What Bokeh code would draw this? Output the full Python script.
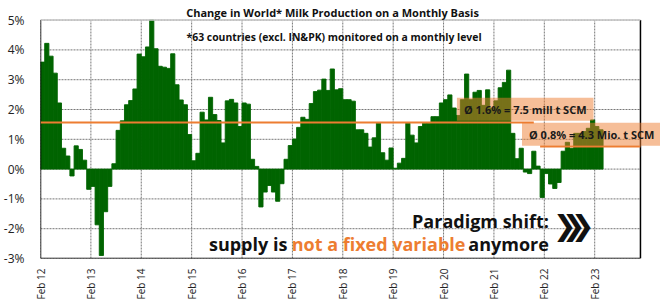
import numpy as np
import pandas as pd
from bokeh.plotting import figure
from bokeh.models import Range1d, FixedTicker, Label, ColumnDataSource
from bokeh.embed import file_html
from bokeh.resources import INLINE

# ---------------- data ----------------
months = pd.period_range("2012-02", "2023-03", freq="M").strftime("%b %y").tolist()
growth = [
    3.59, 4.22, 3.79, 3.22, 2.22, 0.70, 0.44, -0.23, 0.78, 0.66, 0.30, -0.68,
    -0.58, -1.87, -2.90, -1.43, -0.58, 0.18, 1.30, 1.62, 2.16, 2.30, 2.69, 3.86,
    3.77, 4.10, 5.00, 4.04, 3.45, 3.42, 3.38, 3.87, 2.83, 2.32, 2.16, 1.16,
    0.28, 0.53, 1.91, 1.65, 2.41, 1.83, 1.63, 0.88, 2.29, 2.34, 2.22, 1.43,
    2.22, 2.18, 0.33, 0.09, -1.27, -0.77, -0.55, -0.77, -1.08, -0.49, 0.33, 0.79,
    1.01, 1.40, 1.74, 1.67, 2.20, 2.60, 2.65, 3.02, 2.64, 3.36, 2.66, 2.70,
    2.33, 2.33, 2.28, 1.32, 1.32, 1.20, 0.74, 1.05, 1.54, 0.55, 0.30, 0.71,
    0.03, 0.20, 0.36, 1.54, 1.14, 0.88, 1.43, 1.54, 1.54, 1.76, 1.76, 2.22,
    2.33, 2.49, 2.05, 1.80, 2.33, 3.19, 2.33, 2.58, 2.64, 2.14, 2.66, 2.05,
    2.29, 2.73, 2.91, 3.32, 1.20, 0.35, 0.70, -0.10, -0.15, 0.60, 0.10, -0.95,
    -0.15, -0.50, -0.65, -0.45, 0.60, 0.90, 0.70, 1.20, 1.20, 1.26, 1.37, 1.65,
    1.43, 1.32,
]
tick_labels = ["Feb 12", "Feb 13", "Feb 14", "Feb 15", "Feb 16", "Feb 17",
               "Feb 18", "Feb 19", "Feb 20", "Feb 21", "Feb 22", "Feb 23"]
y_ticks = [-3, -2, -1, 0, 1, 2, 3, 4, 5]
avg_labels = ["Ø 1.6% = 7.5 mill t SCM", "Ø 0.8% = 4.3 Mio. t SCM"]
avg_values = [1.56, 0.76]
avg_start = ["Feb 12", "Jan 22"]
avg_end = ["Nov 21", None]

title = "Change in World* Milk Production on a Monthly Basis"
subtitle = "*63 countries (excl. IN&PK) monitored on a monthly level"

# ---------------- layout helpers ----------------
idx = {m: i for i, m in enumerate(months)}
n = len(months)
GREEN = "#006400"
ORANGE = "#ED7D31"
FONT = "Open Sans"
PX_PER_MONTH = 4.212
PX_PER_PCT = 30.4
XMAX = 142.9                      # right border of plot area (in months)
XEND = 622 / PX_PER_MONTH         # canvas right edge
YMIN, YMAX = y_ticks[0], y_ticks[-1]
YEND = YMAX + 20 / PX_PER_PCT     # canvas top edge


def px2x(px):
    return (px - 38) / PX_PER_MONTH


def py2y(py):
    return YMAX - (py - 20) / PX_PER_PCT


p = figure(width=660, height=302, output_backend="svg", toolbar_location=None,
           x_range=Range1d(0, XEND), y_range=Range1d(YMIN, YEND),
           min_border_left=38, min_border_right=0, min_border_top=0,
           min_border_bottom=39)
p.background_fill_color = "white"
p.border_fill_color = "white"
p.outline_line_color = None
p.xgrid.visible = False
p.ygrid.visible = False

# gridlines (inside plot area only)
ticks_x = [months.index(t) for t in tick_labels]
p.segment(x0=ticks_x, y0=[YMIN] * len(ticks_x), x1=ticks_x, y1=[YMAX] * len(ticks_x),
          line_color="#777777", line_dash="2 1", line_width=1)
p.segment(x0=[0] * len(y_ticks), y0=y_ticks, x1=[XMAX] * len(y_ticks), y1=y_ticks,
          line_color="#777777", line_dash="2 1", line_width=1)

# bars
src = ColumnDataSource(dict(x=[i + 0.5 for i in range(n)], top=growth, month=months))
p.vbar(x="x", top="top", bottom=0, width=1.0, source=src,
       fill_color=GREEN, line_color=GREEN, line_width=0.9)

# frame lines
p.segment(x0=[0, 0, XMAX], y0=[YMIN, YMIN, YMIN], x1=[0, XMAX, XMAX], y1=[YMAX, YMIN, YMAX],
          line_color="black", line_width=1.5)
p.segment(x0=[0], y0=[YMAX], x1=[XMAX], y1=[YMAX], line_color="#c8c8c8", line_width=1.5)

# axes
p.xaxis.ticker = FixedTicker(ticks=ticks_x)
p.xaxis.major_label_overrides = {t: lab for t, lab in zip(ticks_x, tick_labels)}
p.xaxis.major_label_orientation = np.pi / 2
p.xaxis.major_label_text_font = FONT
p.xaxis.major_label_text_font_size = "10px"
p.xaxis.major_label_text_color = "#222222"
p.xaxis.major_label_standoff = 4
p.xaxis.major_tick_line_color = None
p.xaxis.minor_tick_line_color = None
p.xaxis.axis_line_color = None

p.yaxis.ticker = FixedTicker(ticks=y_ticks)
p.yaxis.major_label_overrides = {t: f"{t}%" for t in y_ticks}
p.yaxis.major_label_text_font = FONT
p.yaxis.major_label_text_font_size = "12px"
p.yaxis.major_label_text_color = "#222222"
p.yaxis.major_label_standoff = 10
p.yaxis.major_tick_line_color = None
p.yaxis.minor_tick_line_color = None
p.yaxis.axis_line_color = None

# average lines
for v, s, e in zip(avg_values, avg_start, avg_end):
    x0 = idx[s]
    x1 = idx[e] + 0.5 if e else XMAX
    p.segment(x0=[x0], y0=[v], x1=[x1], y1=[v], line_color=ORANGE, line_width=2)

# average boxes
box_pos = [(px2x(524.3), py2y(111.0)), (px2x(591.0), py2y(136.5))]
for lab, (bx, by) in zip(avg_labels, box_pos):
    p.add_layout(Label(x=bx, y=by, text=lab, text_align="center", text_baseline="middle",
                       text_font=FONT, text_font_style="bold", text_font_size="11px",
                       text_color="#1a1a1a",
                       background_fill_color=ORANGE, background_fill_alpha=0.5,
                       padding=dict(left=7, right=7, top=4, bottom=4)))

# titles
p.add_layout(Label(x=px2x(331), y=py2y(12.7), text=title, text_align="center",
                   text_baseline="alphabetic", text_font=FONT, text_font_style="bold",
                   text_font_size="11px", text_color="#111111"))
p.add_layout(Label(x=px2x(332.5), y=py2y(37.5), text=subtitle, text_align="center",
                   text_baseline="alphabetic", text_font=FONT, text_font_style="bold",
                   text_font_size="10.4px", text_color="#111111"))

# message
msg_style = dict(text_baseline="alphabetic", text_font=FONT, text_font_style="bold",
                 text_font_size="18px")
p.add_layout(Label(x=px2x(548), y=py2y(225), text="Paradigm shift:", text_align="right",
                   text_color="#111111", **msg_style))
p.add_layout(Label(x=px2x(207), y=py2y(248), text="supply is", text_align="left",
                   text_color="#111111", **msg_style))
p.add_layout(Label(x=px2x(290), y=py2y(248), text="not a fixed variable", text_align="left",
                   text_color=ORANGE, **msg_style))
p.add_layout(Label(x=px2x(548), y=py2y(248), text="anymore", text_align="right",
                   text_color="#111111", **msg_style))
for cx in (564, 573, 582):
    p.add_layout(Label(x=px2x(cx), y=py2y(230), text="❯", text_align="center",
                       text_baseline="middle", text_font="DejaVu Sans", text_font_style="bold",
                       text_font_size="28px", text_color="#111111"))

open("out.html", "w").write(file_html(p, INLINE))
